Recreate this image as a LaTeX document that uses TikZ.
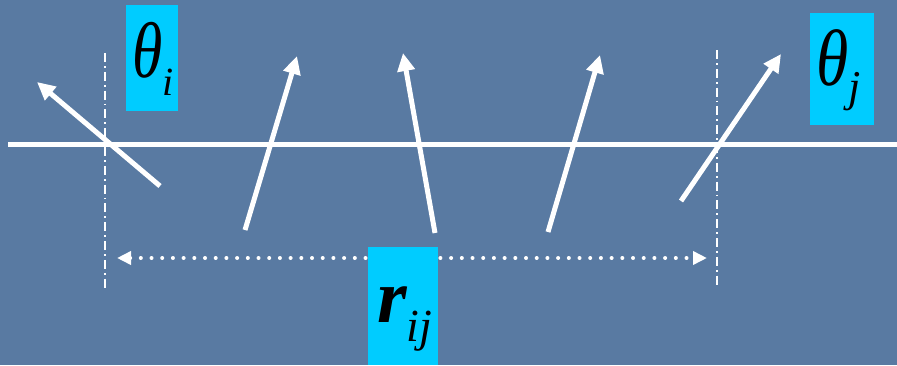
\documentclass[tikz,border=0pt]{standalone}
\usepackage{fontspec}
\setmainfont{Liberation Serif}
\usetikzlibrary{arrows.meta,positioning}
\definecolor{bgblue}{RGB}{89,122,162}
\definecolor{labelcyan}{RGB}{0,204,255}
\tikzset{
  spin/.style={white,line width=5pt,-{Triangle[length=18pt,width=17pt]}},
  guide/.style={white,line width=1.8pt,dash pattern=on 9pt off 4pt on 1.8pt off 4pt},
  labelbox/.style={fill=labelcyan,inner sep=0pt,anchor=north west},
  labeltext/.style={anchor=base west,inner sep=0pt}
}
\begin{document}
\begin{tikzpicture}[x=1pt,y=-1pt]
  \fill[bgblue] (0,0) rectangle (897,365);
  \useasboundingbox (0,0) rectangle (897,365);
  % chain line and site guides
  \draw[white,line width=5pt] (8,144)--(897,144);
  \coordinate (gi top) at (105,53);  \coordinate (gi bot) at (105,290);
  \coordinate (gj top) at (717,50);  \coordinate (gj bot) at (717,286);
  \draw[guide] (gi top)--(gi bot);
  \draw[guide] (gj top)--(gj bot);
  % spins
  \draw[spin] (160,186)--(37,82);
  \draw[spin] (245,230)--(297,56);
  \draw[spin] (435,233)--(403,53);
  \draw[spin] (548,232)--(600,55);
  \draw[spin] (681,201)--(781,54);
  % distance
  \coordinate (ri) at (117,258);
  \coordinate (rj) at (707,258);
  \draw[white,line width=4pt,line cap=round,dash pattern=on 0pt off 10.7pt,
        {Triangle[length=14pt,width=13pt]}-{Triangle[length=14pt,width=13pt]}] (ri)--(rj);
  % labels
  \node[labelbox,minimum width=52pt,minimum height=106pt] (thi) at (126,5) {};
  \node[labeltext] at (132,77)
    {\fontsize{79}{80}\selectfont\itshape\scalebox{0.78}[1]{θ}\raisebox{-18pt}{\fontsize{40}{40}\selectfont i}};
  \node[labelbox,minimum width=64pt,minimum height=112pt] (thj) at (810,13) {};
  \node[labeltext] at (816,85)
    {\fontsize{80}{80}\selectfont\itshape\scalebox{0.82}[1]{θ}\raisebox{-16pt}{\fontsize{44}{44}\selectfont j}};
  \node[labelbox,minimum width=70pt,minimum height=118pt] (rij) at (368,247) {};
  \node[labeltext] at (377,322)
    {\fontsize{76}{78}\selectfont\bfseries\itshape r\raisebox{-19pt}{\fontsize{46}{46}\selectfont\mdseries ij}};
\end{tikzpicture}
\end{document}
